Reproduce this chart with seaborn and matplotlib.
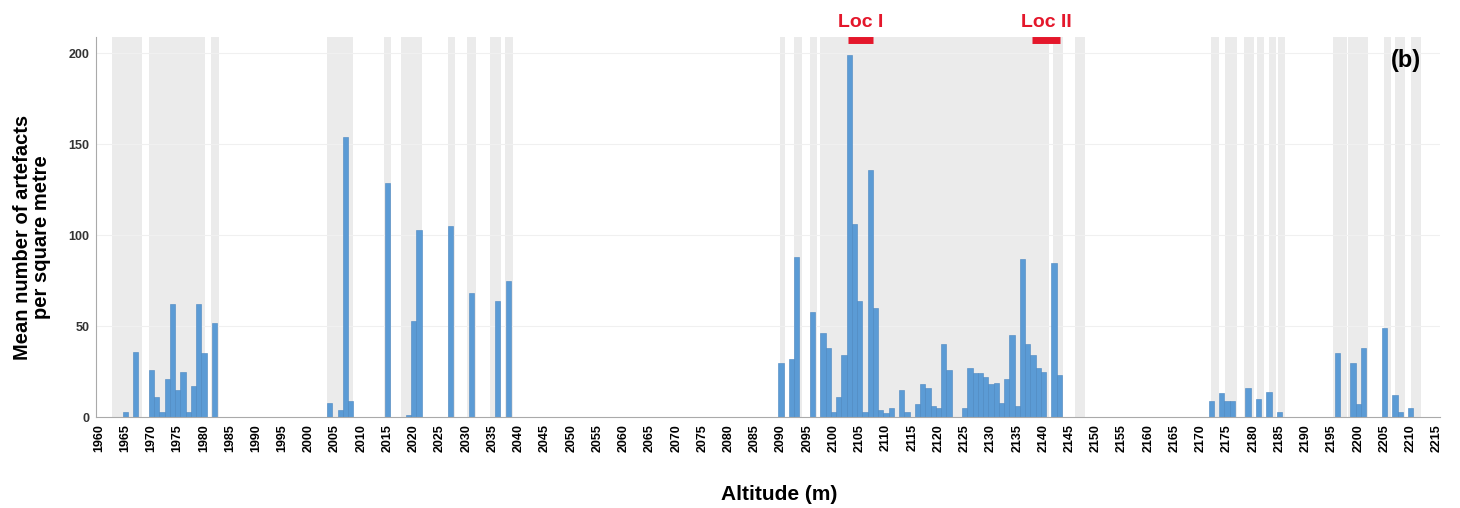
import matplotlib
matplotlib.use("Agg")
import matplotlib.pyplot as plt
import seaborn as sns
import numpy as np

# altitude (m) of each sampled bin and mean artefact density
altitudes = [1965, 1967, 1970, 1971, 1972, 1973, 1974, 1975, 1976, 1977, 1978, 1979, 1980, 1982,
             2004, 2006, 2007, 2008, 2015, 2019, 2020, 2021, 2027, 2031, 2036, 2038,
             2090, 2092, 2093, 2096, 2098, 2099, 2100, 2101, 2102, 2103, 2104, 2105, 2106,
             2107, 2108, 2109, 2110, 2111, 2113, 2114, 2116, 2117, 2118, 2119, 2120, 2121,
             2122, 2125, 2126, 2127, 2128, 2129, 2130, 2131, 2132, 2133, 2134, 2135, 2136,
             2137, 2138, 2139, 2140, 2142, 2143,
             2172, 2174, 2175, 2176, 2179, 2181, 2183, 2185, 2196, 2199, 2200, 2201, 2205,
             2207, 2208, 2210]
density = [3, 36, 26, 11, 3, 21, 62, 15, 25, 3, 17, 62, 35, 52,
           8, 4, 154, 9, 129, 1, 53, 103, 105, 68, 64, 75,
           30, 32, 88, 58, 46, 38, 3, 11, 34, 199, 106, 64, 3,
           136, 60, 4, 2, 5, 15, 3, 7, 18, 16, 6, 5, 40,
           26, 5, 27, 24, 24, 22, 18, 19, 8, 21, 45, 6, 87,
           40, 34, 27, 25, 85, 23,
           9, 13, 9, 9, 16, 10, 14, 3, 35, 30, 7, 38, 49,
           12, 3, 5]

# surveyed altitude ranges (grey background)
survey_start = [1962.5, 1969.5, 1981.4, 2003.4, 2014.4, 2017.6, 2026.5, 2030.2, 2034.6, 2037.3,
                2089.7, 2092.5, 2095.5, 2097.5, 2141.8, 2146.0, 2172.0, 2174.6, 2178.2, 2180.7,
                2182.9, 2184.8, 2195.2, 2198.1, 2205.0, 2207.0, 2210.0]
survey_end = [1968.2, 1980.3, 1982.8, 2008.5, 2015.6, 2021.6, 2027.8, 2031.8, 2036.7, 2039.0,
              2090.7, 2094.0, 2096.8, 2141.0, 2143.7, 2148.0, 2173.5, 2176.8, 2180.1, 2182.0,
              2184.4, 2186.0, 2197.8, 2201.9, 2206.3, 2209.0, 2212.0]

# localities marked above the plot
loc_names = ["Loc I", "Loc II"]
loc_start = [2102.8, 2137.8]
loc_end = [2107.5, 2143.2]

sns.set_style("white")
plt.rcParams['font.family'] = ['Liberation Sans', 'DejaVu Sans']
plt.rcParams['text.color'] = 'black'
plt.rcParams['axes.labelcolor'] = 'black'
plt.rcParams['xtick.color'] = 'black'
plt.rcParams['ytick.color'] = '#333333'

fig = plt.figure(figsize=(14.6, 5.08), dpi=100)
ax = fig.add_axes([0.066, 0.179, 0.92, 0.748])

for s, e in zip(survey_start, survey_end):
    ax.axvspan(s, e, color='#ebebeb', lw=0, zorder=0)

for yv in [50, 100, 150, 200]:
    ax.axhline(yv, color='#f0f0f0', lw=0.8, zorder=0.5)

sns.barplot(x=altitudes, y=density, native_scale=True, color='#5b9bd5', saturation=1,
            width=1.0, edgecolor='#4a86c0', linewidth=0.4, ax=ax, zorder=2)

ax.set_xlim(1959.5, 2215.5)
ax.set_ylim(0, 209)
ax.set_xticks(np.arange(1960, 2216, 5))
ax.set_xticklabels([str(t) for t in range(1960, 2216, 5)], rotation=90,
                   fontsize=9, fontweight='bold')
ax.set_yticks([0, 50, 100, 150, 200])
ax.set_yticklabels(['0', '50', '100', '150', '200'], fontsize=9, fontweight='bold')
ax.tick_params(axis='both', length=3, width=0.6, pad=2)
ax.tick_params(axis='both', which='major', color='#999999')

for side in ['top', 'right']:
    ax.spines[side].set_visible(False)
ax.spines['left'].set_color('#aaaaaa')
ax.spines['bottom'].set_color('#aaaaaa')

ax.set_xlabel('Altitude (m)', fontsize=15, fontweight='bold')
ax.xaxis.set_label_coords(0.508, -0.178)
ax.set_ylabel('Mean number of artefacts\nper square metre', fontsize=14.5,
              fontweight='bold', linespacing=1.0)
ax.yaxis.set_label_coords(-0.034, 0.474)

for name, s, e in zip(loc_names, loc_start, loc_end):
    ax.plot([s, e], [207.5, 207.5], color='#e4172b', lw=5, solid_capstyle='butt',
            clip_on=False, zorder=5)
    ax.text((s + e) / 2, 212.5, name, color='#e4172b', fontsize=14, fontweight='bold',
            ha='center', va='bottom', clip_on=False)

ax.text(2212, 196, '(b)', fontsize=17, fontweight='bold', ha='right', va='center')

fig.savefig('out.png', dpi=100)
